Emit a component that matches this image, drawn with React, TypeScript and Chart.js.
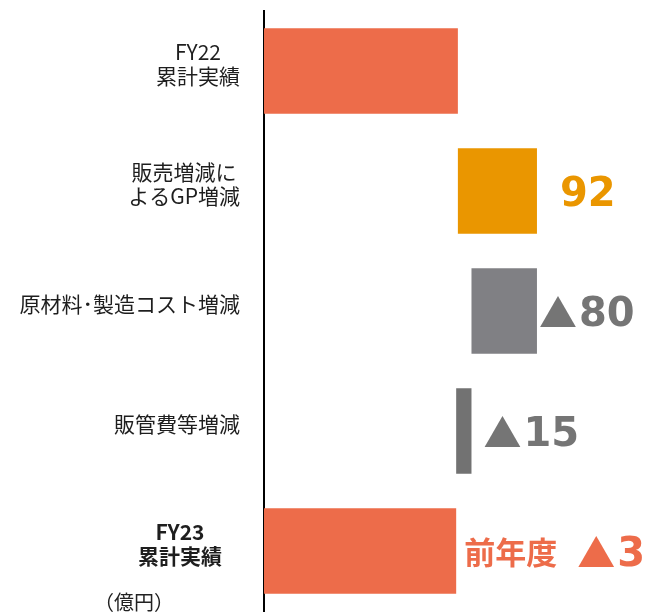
import React, { useEffect, useRef } from "react";
import { Chart, registerables } from "chart.js";

Chart.register(...registerables);

// ---- data ----
const categories: (string | string[])[] = [
  ["FY22", "累計実績"],
  ["販売増減に", "よるGP増減"],
  "原材料･製造コスト増減",
  "販管費等増減",
  ["FY23", "累計実績"],
];
const barStarts = [0, 228, 244, 226, 0];
const barEnds = [228, 321, 321, 244, 226];
const valueMarks = ["", "", "▲", "▲", "▲"];
const valueNumbers = ["", "92", "80", "15", "3"];
const valuePrefixes = ["", "", "", "", "前年度"];
const unitLabel = "（億円）";

// ---- styles ----
const barColors = ["#ED6C4A", "#EA9600", "#808084", "#727272", "#ED6C4A"];
const valueColors = ["#000", "#EA9600", "#757575", "#757575", "#ED6C4A"];
const valueGaps = [0, 23, 2, 12, 8];
const labelRights = [240, 240, 240, 240, 222];
const labelBold = [false, false, false, false, true];
const CJK = "'Noto Sans CJK JP', 'Noto Sans', sans-serif";
const NUM = "'DejaVu Sans', 'Noto Sans', sans-serif";

const categoryLabelPlugin = {
  id: "categoryLabels",
  afterDraw(chart: any) {
    const ctx = chart.ctx;
    const yScale = chart.scales.y;
    ctx.save();
    ctx.fillStyle = "#1e1e1e";
    ctx.textAlign = "center";
    ctx.textBaseline = "middle";
    categories.forEach((lab, i) => {
      const lines = Array.isArray(lab) ? lab : [lab];
      ctx.font = `${labelBold[i] ? "bold " : ""}21px ${CJK}`;
      const widest = Math.max(...lines.map((l) => ctx.measureText(l).width));
      const cx = labelRights[i] - widest / 2;
      const yc = yScale.getPixelForTick(i) - 7;
      const lh = 23.5;
      lines.forEach((l, j) => {
        ctx.fillText(l, cx, yc + (j - (lines.length - 1) / 2) * lh);
      });
    });
    ctx.font = `20px ${CJK}`;
    ctx.fillStyle = "#222";
    ctx.textAlign = "center";
    ctx.textBaseline = "alphabetic";
    ctx.fillText(unitLabel, 134, 610);
    ctx.restore();
  },
};

const valueLabelPlugin = {
  id: "valueLabels",
  afterDatasetsDraw(chart: any) {
    const ctx = chart.ctx;
    const meta = chart.getDatasetMeta(0);
    ctx.save();
    meta.data.forEach((el: any, i: number) => {
      if (!valueNumbers[i]) return;
      const right = Math.max(el.x, el.base);
      let x = right + valueGaps[i];
      const baseY = el.y + 15;
      ctx.fillStyle = valueColors[i];
      ctx.textAlign = "left";
      ctx.textBaseline = "alphabetic";
      if (valuePrefixes[i]) {
        ctx.font = `bold 31px ${CJK}`;
        ctx.fillText(valuePrefixes[i], x, el.y + 13);
        x += ctx.measureText(valuePrefixes[i]).width + 20;
      }
      if (valueMarks[i]) {
        ctx.font = `bold 38px ${CJK}`;
        ctx.fillText(valueMarks[i], x, baseY + 1);
        x += ctx.measureText(valueMarks[i]).width + 2;
      }
      ctx.font = `bold 40px ${NUM}`;
      ctx.fillText(valueNumbers[i], x, baseY);
    });
    ctx.restore();
  },
};

export default function App() {
  const ref = useRef<HTMLCanvasElement | null>(null);
  useEffect(() => {
    if (!ref.current) return;
    const chart = new Chart(ref.current, {
      type: "bar",
      data: {
        labels: categories as any,
        datasets: [
          {
            data: barStarts.map((s, i) => [s, barEnds[i]]) as any,
            backgroundColor: barColors,
            borderWidth: 0,
            barPercentage: 0.714,
            categoryPercentage: 1,
          },
        ],
      },
      options: {
        indexAxis: "y",
        responsive: false,
        animation: false,
        layout: { padding: { top: 11, bottom: 2, right: 8, left: 0 } },
        plugins: { legend: { display: false }, tooltip: { enabled: false } },
        scales: {
          x: { display: false, min: 0, max: 441 },
          y: {
            z: 1,
            grid: { display: false, drawTicks: false },
            border: { display: true, color: "#000", width: 2 },
            afterFit: (scale: any) => {
              scale.width = 264;
              scale.paddingTop = 0;
              scale.paddingBottom = 0;
            },
            ticks: { display: false },
          },
        },
      },
      plugins: [valueLabelPlugin, categoryLabelPlugin],
    });
    return () => chart.destroy();
  }, []);
  return (
    <div style={{ position: "absolute", left: 0, top: 0, width: 647, height: 613, background: "#fff" }}>
      <canvas ref={ref} width={647} height={613} style={{ display: "block" }} />
    </div>
  );
}
